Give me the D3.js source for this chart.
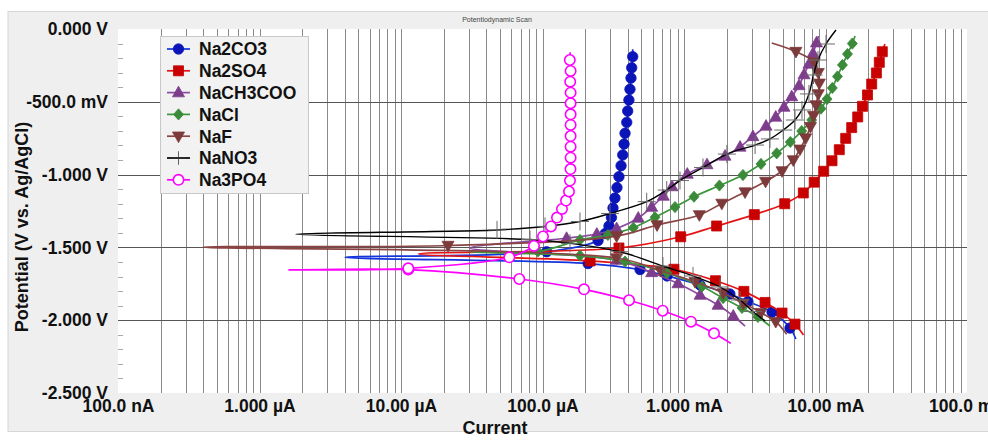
<!DOCTYPE html>
<html>
<head>
<meta charset="utf-8">
<script src="https://cdn.jsdelivr.net/npm/d3@7"></script>
<style>
  body { margin: 0; background: #fff; }
  svg { display: block; font-family: "Liberation Sans", Arial, sans-serif; }
</style>
</head>
<body>
<div id="chart"></div>
<script>
// values (current in A, potential in V vs Ag/AgCl)
const na2co3Current = [6.18e-3, 5.61e-3, 4.19e-3, 2.83e-3, 2.11e-3, 1.30e-3, 7.59e-4, 4.89e-4, 2.10e-4, 4.02e-6, 1.07e-4, 2.47e-4, 2.77e-4, 2.95e-4, 3.07e-4, 3.15e-4, 3.25e-4, 3.36e-4, 3.47e-4, 3.59e-4, 3.69e-4, 3.77e-4, 3.83e-4, 3.94e-4, 4.00e-4, 4.08e-4, 4.15e-4, 4.22e-4, 4.27e-4, 4.34e-4, 4.34e-4];
const na2co3Potential = [-2.129, -2.054, -1.944, -1.872, -1.820, -1.758, -1.696, -1.652, -1.611, -1.568, -1.530, -1.453, -1.405, -1.353, -1.295, -1.229, -1.161, -1.089, -1.014, -0.939, -0.865, -0.790, -0.716, -0.641, -0.563, -0.488, -0.414, -0.337, -0.266, -0.190, -0.139];

const na2so4Current = [6.99e-3, 6.09e-3, 4.93e-3, 3.74e-3, 2.65e-3, 1.67e-3, 8.49e-4, 2.17e-4, 1.33e-5, 3.47e-4, 9.48e-4, 1.70e-3, 3.14e-3, 5.15e-3, 6.97e-3, 8.32e-3, 9.71e-3, 1.112e-2, 1.252e-2, 1.389e-2, 1.531e-2, 1.689e-2, 1.826e-2, 1.981e-2, 2.12e-2, 2.29e-2, 2.40e-2, 2.52e-2, 2.63e-2];
const na2so4Potential = [-2.102, -2.027, -1.951, -1.878, -1.802, -1.729, -1.650, -1.593, -1.545, -1.504, -1.427, -1.353, -1.275, -1.200, -1.126, -1.052, -0.977, -0.905, -0.829, -0.751, -0.677, -0.604, -0.531, -0.453, -0.378, -0.302, -0.229, -0.156, -0.103];

const nach3cooCurrent = [2.70e-3, 2.23e-3, 1.74e-3, 1.30e-3, 9.07e-4, 5.91e-4, 3.34e-4, 3.07e-5, 1.48e-4, 2.42e-4, 3.34e-4, 4.75e-4, 5.91e-4, 7.14e-4, 8.23e-4, 1.055e-3, 1.454e-3, 1.95e-3, 2.49e-3, 3.07e-3, 3.80e-3, 4.45e-3, 5.09e-3, 5.77e-3, 6.50e-3, 7.05e-3, 7.64e-3, 8.16e-3, 8.64e-3, 8.92e-3];
const nach3cooPotential = [-2.040, -1.971, -1.896, -1.827, -1.748, -1.672, -1.587, -1.504, -1.437, -1.408, -1.370, -1.298, -1.223, -1.147, -1.082, -0.996, -0.931, -0.872, -0.810, -0.738, -0.666, -0.604, -0.536, -0.464, -0.388, -0.313, -0.240, -0.167, -0.094, -0.048];

const naclCurrent = [4.05e-3, 3.33e-3, 2.57e-3, 1.89e-3, 1.34e-3, 7.59e-4, 3.83e-4, 1.84e-4, 3.07e-5, 9.29e-5, 1.84e-4, 2.90e-4, 4.38e-4, 6.24e-4, 8.64e-4, 1.177e-3, 1.78e-3, 2.61e-3, 3.50e-3, 4.52e-3, 5.64e-3, 6.79e-3, 7.99e-3, 9.29e-3, 1.025e-2, 1.117e-2, 1.215e-2, 1.318e-2, 1.430e-2, 1.547e-2, 1.617e-2];
const naclPotential = [-2.040, -1.978, -1.916, -1.848, -1.769, -1.676, -1.597, -1.556, -1.532, -1.528, -1.449, -1.415, -1.365, -1.293, -1.223, -1.152, -1.075, -1.003, -0.927, -0.854, -0.776, -0.701, -0.625, -0.547, -0.481, -0.405, -0.326, -0.247, -0.172, -0.100, -0.048];

const nafCurrent = [5.32e-3, 4.45e-3, 3.50e-3, 2.62e-3, 1.89e-3, 1.196e-3, 6.84e-4, 3.34e-4, 3.99e-7, 2.15e-5, 3.34e-4, 6.45e-4, 1.283e-3, 1.85e-3, 2.70e-3, 3.77e-3, 4.93e-3, 5.92e-3, 6.60e-3, 7.24e-3, 7.83e-3, 8.23e-3, 8.57e-3, 8.89e-3, 9.04e-3, 8.89e-3, 8.33e-3, 6.18e-3, 4.17e-3];
const nafPotential = [-2.097, -2.010, -1.948, -1.884, -1.813, -1.736, -1.660, -1.573, -1.499, -1.487, -1.422, -1.346, -1.277, -1.198, -1.120, -1.047, -0.975, -0.900, -0.826, -0.749, -0.671, -0.595, -0.522, -0.446, -0.373, -0.300, -0.227, -0.155, -0.096];

const nano3Current = [3.74e-3, 3.07e-3, 2.49e-3, 1.80e-3, 1.158e-3, 7.10e-4, 3.53e-4, 1.564e-4, 8.16e-5, 1.81e-6, 4.77e-5, 1.042e-4, 1.84e-4, 3.00e-4, 5.45e-4, 7.55e-4, 9.37e-4, 1.362e-3, 2.01e-3, 3.18e-3, 4.05e-3, 5.03e-3, 6.09e-3, 6.82e-3, 7.64e-3, 8.23e-3, 8.85e-3, 1.008e-2, 1.186e-2];
const nano3Potential = [-2.005, -1.940, -1.861, -1.772, -1.696, -1.628, -1.530, -1.472, -1.446, -1.409, -1.380, -1.356, -1.322, -1.267, -1.186, -1.106, -1.041, -0.951, -0.859, -0.797, -0.755, -0.694, -0.625, -0.556, -0.446, -0.316, -0.213, -0.103, -0.007];

const na3po4Current = [2.14e-3, 1.63e-3, 1.12e-3, 7.07e-4, 4.09e-4, 1.965e-4, 6.85e-5, 1.126e-5, 1.616e-6, 1.126e-5, 5.83e-5, 8.71e-5, 1.008e-4, 1.148e-4, 1.266e-4, 1.373e-4, 1.466e-4, 1.539e-4, 1.564e-4, 1.577e-4, 1.58e-4, 1.58e-4, 1.58e-4, 1.58e-4, 1.58e-4, 1.58e-4, 1.58e-4, 1.57e-4, 1.58e-4, 1.56e-4, 1.57e-4];
const na3po4Potential = [-2.159, -2.090, -2.010, -1.935, -1.863, -1.788, -1.717, -1.652, -1.655, -1.644, -1.568, -1.490, -1.425, -1.356, -1.295, -1.236, -1.178, -1.116, -1.041, -0.962, -0.884, -0.808, -0.735, -0.659, -0.586, -0.510, -0.437, -0.362, -0.288, -0.213, -0.160];

const seriesNames = ["Na2CO3", "Na2SO4", "NaCH3COO", "NaCl", "NaF", "NaNO3", "Na3PO4"];
const yTicks = [0, -0.5, -1, -1.5, -2, -2.5];
const xTicks = [1e-7, 1e-6, 1e-5, 1e-4, 1e-3, 1e-2, 1e-1];

const series = [
  { name: seriesNames[0], current: na2co3Current, potential: na2co3Potential, line: "#1434dc", fill: "#0a14b8", stroke: "#0a14b8", shape: "circle" },
  { name: seriesNames[1], current: na2so4Current, potential: na2so4Potential, line: "#e41414", fill: "#c80000", stroke: "#c80000", shape: "square" },
  { name: seriesNames[2], current: nach3cooCurrent, potential: nach3cooPotential, line: "#8c4aa0", fill: "#7d3c8c", stroke: "#7d3c8c", shape: "triUp" },
  { name: seriesNames[3], current: naclCurrent, potential: naclPotential, line: "#3c963c", fill: "#3a8a3a", stroke: "#3a8a3a", shape: "diamond" },
  { name: seriesNames[4], current: nafCurrent, potential: nafPotential, line: "#8a4444", fill: "#7d3a3a", stroke: "#7d3a3a", shape: "triDown" },
  { name: seriesNames[5], current: nano3Current, potential: nano3Potential, line: "#000000", fill: "none", stroke: "#6a6a6a", shape: "plus" },
  { name: seriesNames[6], current: na3po4Current, potential: na3po4Potential, line: "#ff00ff", fill: "#ffffff", stroke: "#ff00ff", shape: "circle" },
];

// dimensions
const width = 988;
const height = 441;
const plot = { left: 118, right: 967, top: 29, bottom: 393 };

const svg = d3.select("#chart").append("svg").attr("width", width).attr("height", height);

const x = d3.scaleLog().domain([1e-7, 1e-1]).range([plot.left, plot.right]);
const y = d3.scaleLinear().domain([-2.5, 0]).range([plot.bottom, plot.top]);

const locale = d3.formatLocale({ decimal: ".", thousands: ",", grouping: [3], currency: ["", ""], minus: "-" });
const f4 = locale.format(".4r");
const fmtV = (v) => (v !== 0 && Math.abs(v) < 1 ? f4(v * 1000) + " mV" : f4(v) + " V");
const fmtA = (v) => {
  if (v < 1e-6) return f4(v * 1e9) + " nA";
  if (v < 1e-3) return f4(v * 1e6) + " \u00b5A";
  return f4(v * 1e3) + " mA";
};

// window panel + title strip
svg.append("rect").attr("x", 8).attr("y", 11.5).attr("width", 982).attr("height", 420)
  .attr("fill", "#efefef").attr("stroke", "#d6d6d6");
svg.append("text").attr("x", 497).attr("y", 21.5).attr("text-anchor", "middle")
  .attr("font-size", 7).attr("fill", "#444").text("Potentiodynamic Scan");

svg.append("rect").attr("x", plot.left).attr("y", plot.top)
  .attr("width", plot.right - plot.left).attr("height", plot.bottom - plot.top).attr("fill", "#fff");

// grid
const grid = svg.append("g");
grid.selectAll(".vgrid").data(x.ticks().filter((d) => d > 1e-7 && d < 1e-1)).join("line")
  .attr("x1", (d) => Math.round(x(d)) + 0.5).attr("x2", (d) => Math.round(x(d)) + 0.5)
  .attr("y1", plot.top).attr("y2", plot.bottom)
  .attr("stroke", "#8a8a8a").attr("stroke-width", 1);
grid.selectAll(".hgrid").data(yTicks.filter((d) => d < 0 && d > -2.5)).join("line")
  .attr("x1", plot.left).attr("x2", plot.right)
  .attr("y1", (d) => Math.round(y(d)) + 0.5).attr("y2", (d) => Math.round(y(d)) + 0.5)
  .attr("stroke", "#555").attr("stroke-width", 1);
// minor ticks on the left edge every 100 mV
grid.selectAll(".minor").data(d3.range(1, 25).filter((k) => k % 5 !== 0).map((k) => -k / 10)).join("line")
  .attr("x1", plot.left).attr("x2", plot.left + 5)
  .attr("y1", (d) => Math.round(y(d)) + 0.5).attr("y2", (d) => Math.round(y(d)) + 0.5)
  .attr("stroke", "#aaa");

// axes
const tickFont = (g) => g.attr("font-family", null).attr("font-size", 17.5).attr("font-weight", "bold")
  .call((g) => g.select(".domain").remove())
  .call((g) => g.selectAll("text").attr("fill", "#111"));

svg.append("g").attr("transform", `translate(${plot.left},0)`)
  .call(d3.axisLeft(y).tickValues(yTicks).tickSize(0).tickPadding(10).tickFormat(fmtV))
  .call(tickFont);

svg.append("g").attr("transform", `translate(0,${plot.bottom})`)
  .call(d3.axisBottom(x).tickValues(xTicks).tickSize(0).tickPadding(7).tickFormat(fmtA))
  .call(tickFont);

svg.append("text").attr("x", 495).attr("y", 434).attr("text-anchor", "middle")
  .attr("font-size", 18).attr("font-weight", "bold").attr("fill", "#111").text("Current");
svg.append("text").attr("transform", "translate(22,227) rotate(-90)").attr("dy", "0.35em")
  .attr("text-anchor", "middle").attr("font-size", 18).attr("font-weight", "bold").attr("fill", "#111")
  .text("Potential (V vs. Ag/AgCl)");

// marker shapes
const markerPath = (shape) => {
  switch (shape) {
    case "circle": return "M5.2,0A5.2,5.2 0 1,1 -5.2,0A5.2,5.2 0 1,1 5.2,0Z";
    case "square": return "M-5,-5H5V5H-5Z";
    case "triUp": return "M0,-6.4L6,4.2L-6,4.2Z";
    case "triDown": return "M0,6.4L6,-4.2L-6,-4.2Z";
    case "diamond": return "M0,-5.6L5,0L0,5.6L-5,0Z";
    case "plus": return "M-9,0H9M0,-9V9";
  }
};

svg.append("clipPath").attr("id", "clip").append("rect")
  .attr("x", plot.left).attr("y", plot.top)
  .attr("width", plot.right - plot.left).attr("height", plot.bottom - plot.top);

const line = d3.line().x((d) => x(d[0])).y((d) => y(d[1])).curve(d3.curveCatmullRom.alpha(0.5));

const curves = svg.append("g").attr("clip-path", "url(#clip)");
series.forEach((s) => {
  const pts = d3.zip(s.current, s.potential);
  const tip = d3.minIndex(s.current);
  // markers sit on the sampled points, not on the scan ends or the corrosion tip
  const marked = pts.filter((p, i) => i > 0 && i < pts.length - 1 && i !== tip);
  const g = curves.append("g");
  g.append("path").datum(pts).attr("d", line)
    .attr("fill", "none").attr("stroke", s.line).attr("stroke-width", s.shape === "plus" ? 1.4 : 1.7);
  g.selectAll("path.mark").data(marked).join("path").attr("class", "mark")
    .attr("transform", (d) => `translate(${x(d[0])},${y(d[1])})`)
    .attr("d", markerPath(s.shape))
    .attr("fill", s.fill).attr("stroke", s.stroke)
    .attr("stroke-width", s.shape === "plus" ? 1 : s.fill === "#ffffff" ? 1.6 : 0.8);
});

// legend
const legend = svg.append("g");
legend.append("rect").attr("x", 160.5).attr("y", 36.5).attr("width", 148).attr("height", 157)
  .attr("fill", "#f2f2f2").attr("stroke", "#c8c8c8");
const items = legend.selectAll(".item").data(series).join("g")
  .attr("transform", (d, i) => `translate(0,${49 + i * 21.8})`);
items.append("line").attr("x1", 167).attr("x2", 190)
  .attr("stroke", (d) => d.line).attr("stroke-width", 1.7);
items.append("path").attr("transform", "translate(178.5,0)")
  .attr("d", (d) => markerPath(d.shape))
  .attr("fill", (d) => d.fill).attr("stroke", (d) => (d.shape === "plus" ? "#333" : d.stroke))
  .attr("stroke-width", (d) => (d.shape === "plus" ? 1 : d.fill === "#ffffff" ? 1.6 : 0.8))
  .attr("transform", (d) => (d.shape === "plus" ? "translate(178.5,0) scale(0.75)" : "translate(178.5,0)"));
items.append("text").attr("x", 199).attr("dy", "0.36em")
  .attr("font-size", 17.5).attr("font-weight", "bold").attr("fill", "#111")
  .text((d) => d.name);
</script>
</body>
</html>
